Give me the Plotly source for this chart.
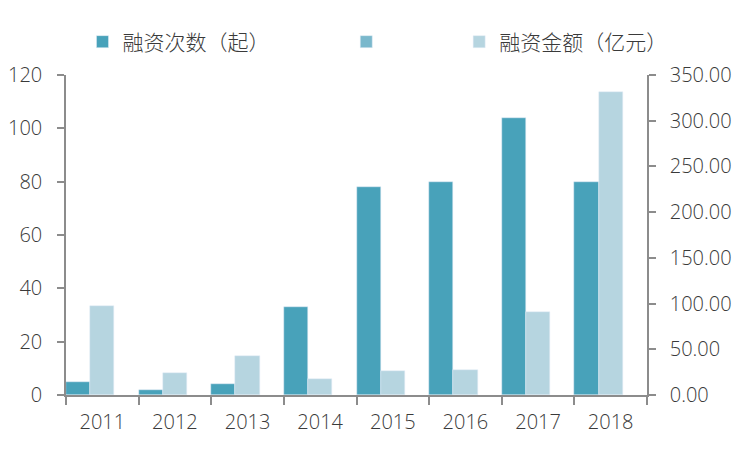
import plotly.graph_objects as go

years = ["2011", "2012", "2013", "2014", "2015", "2016", "2017", "2018"]
deal_count = [5, 2, 4, 33, 78, 80, 104, 80]
deal_amount = [97.3, 24.0, 42.7, 17.5, 26.2, 27.3, 90.8, 331.4]
blank_series = [None] * len(years)

name_count = "融资次数（起）"
name_blank = " "
name_amount = "融资金额（亿元）"

dark = "#48A2BA"
mid = "#7AB8CC"
light = "#B6D5E0"
axis_grey = "#8C8C8C"
text_grey = "#3A3A3A"

# page body has an 8px margin, so the figure is drawn 8px smaller and the
# plot area is placed so it lands where the reference has it
PAGE_OFF = 8
PLOT_L, PLOT_R, PLOT_T, PLOT_B = 65.5, 647, 75, 395

fig = go.Figure()

# dark bars sit in the left third of each category, light bars in the middle third
fig.add_trace(go.Bar(
    x=years, y=deal_count, name=name_count, marker_color=dark,
    width=1 / 3, offset=-0.5, yaxis="y", legend="legend",
))
fig.add_trace(go.Bar(
    x=years, y=blank_series, name=name_blank, marker_color=mid,
    width=1 / 3, offset=1 / 6, yaxis="y", legend="legend2",
))
fig.add_trace(go.Bar(
    x=years, y=deal_amount, name=name_amount, marker_color=light,
    width=1 / 3, offset=-0.5 + 1 / 3, yaxis="y2", legend="legend3",
))

tick_font = dict(family="Open Sans", size=20, color=text_grey, weight=300)
legend_font = dict(family="Noto Sans CJK SC", size=21, color=text_grey, weight=300)


def legend_at(px_x, px_y):
    # place a legend by window pixels, in paper coordinates
    return dict(
        orientation="h", xref="paper", yref="paper",
        x=(px_x - PLOT_L) / (PLOT_R - PLOT_L),
        y=(PLOT_B - px_y) / (PLOT_B - PLOT_T),
        xanchor="left", yanchor="middle",
        font=legend_font, bgcolor="rgba(0,0,0,0)", itemclick=False,
    )


fig.update_layout(
    width=750 - PAGE_OFF, height=449 - PAGE_OFF,
    margin=dict(l=PLOT_L - PAGE_OFF, r=750 - PLOT_R, t=PLOT_T - PAGE_OFF, b=449 - PLOT_B),
    plot_bgcolor="white", paper_bgcolor="white",
    barmode="overlay",
    bargap=0,
    showlegend=True,
    xaxis=dict(
        type="category", showline=True, linecolor=axis_grey, linewidth=1.5,
        ticks="outside", tickson="boundaries", ticklen=8, tickcolor=axis_grey,
        tickwidth=1.5, tickfont=tick_font, showgrid=False, zeroline=False,
        range=[-0.5, 7.5], ticklabelstandoff=8, automargin=False,
    ),
    yaxis=dict(
        range=[0, 120], dtick=20, showline=True, linecolor=axis_grey,
        linewidth=1.5, ticks="outside", ticklen=7, tickcolor=axis_grey,
        tickwidth=1.5, tickfont=tick_font, showgrid=False, zeroline=False,
        ticklabelstandoff=11, automargin=False,
    ),
    yaxis2=dict(
        range=[0, 350], dtick=50, tickformat=".2f", overlaying="y", side="right",
        showline=True, linecolor=axis_grey, linewidth=1.5, ticks="outside",
        ticklen=7, tickcolor=axis_grey, tickwidth=1.5, tickfont=tick_font,
        showgrid=False, zeroline=False, ticklabelstandoff=10, automargin=False,
    ),
    legend=legend_at(82, 42),
    legend2=legend_at(346, 42),
    legend3=legend_at(459, 42),
)

fig.write_html("out.html")
